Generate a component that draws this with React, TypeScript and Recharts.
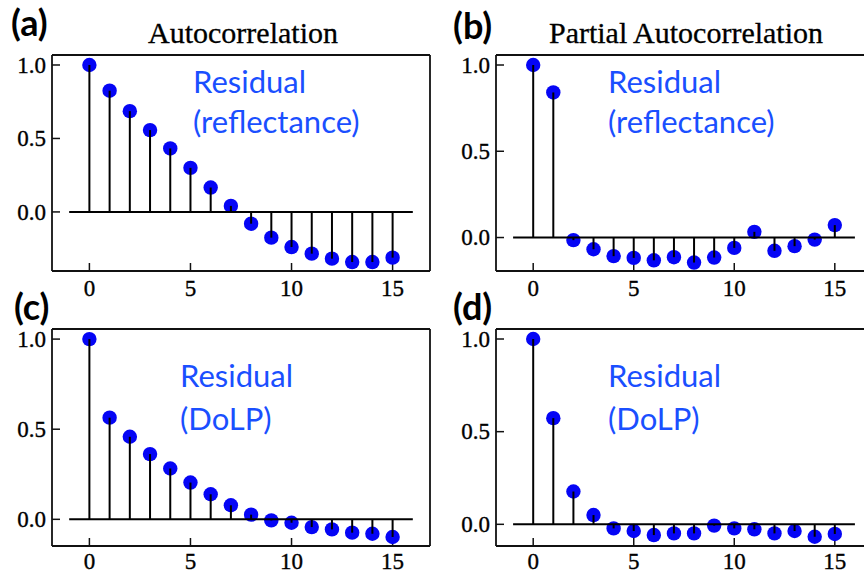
import React from "react";
import { ComposedChart, XAxis, YAxis, Scatter, ReferenceLine } from "recharts";

const LAGS = [0, 1, 2, 3, 4, 5, 6, 7, 8, 9, 10, 11, 12, 13, 14, 15];
const ACF_REFLECT = [1.0, 0.825, 0.686, 0.557, 0.432, 0.3, 0.166, 0.041, -0.08, -0.175, -0.239, -0.284, -0.318, -0.341, -0.341, -0.311];
const PACF_REFLECT = [1.0, 0.841, -0.015, -0.068, -0.108, -0.118, -0.132, -0.114, -0.145, -0.116, -0.06, 0.033, -0.077, -0.05, -0.012, 0.072];
const ACF_DOLP = [1.0, 0.564, 0.458, 0.362, 0.282, 0.204, 0.139, 0.078, 0.026, -0.006, -0.019, -0.043, -0.056, -0.074, -0.08, -0.098];
const PACF_DOLP = [1.0, 0.573, 0.177, 0.05, -0.022, -0.036, -0.058, -0.049, -0.049, -0.007, -0.022, -0.027, -0.049, -0.036, -0.067, -0.052];

const X_MAJOR = [0, 5, 10, 15];
const X_MINOR = [-1, 0, 1, 2, 3, 4, 5, 6, 7, 8, 9, 10, 11, 12, 13, 14, 15, 16];
const Y_MAJOR = [0, 0.5, 1];
const Y_MINOR_DEEP = [-0.3, -0.2, -0.1, 0, 0.1, 0.2, 0.3, 0.4, 0.5, 0.6, 0.7, 0.8, 0.9, 1.0];
const Y_MINOR = [-0.1, 0, 0.1, 0.2, 0.3, 0.4, 0.5, 0.6, 0.7, 0.8, 0.9, 1.0];
const BASE_X = [-1, 16];
const X_DOMAIN: [number, number] = [-1.85, 16.85];

const DOT = "#0505f5";
const TEXT_BLUE = "#1a4fff";
const INK = "#111";
const SERIF = "'Liberation Serif', 'Times New Roman', serif";
const SANS = "Lato, 'Open Sans', sans-serif";
const TICK_PX = 23;

const axisLine = { stroke: INK, strokeWidth: 1.8 };
const tickLine = { stroke: INK, strokeWidth: 1.5 };

const Dot = (p: any) => <circle cx={p.cx} cy={p.cy} r={7.2} fill={DOT} />;

const XTick = (p: any) => (
  <text x={p.x} y={p.y} dy="0.66em" textAnchor="middle" fontFamily={SERIF} fontSize={TICK_PX}
    fill="#000" stroke="#000" strokeWidth={0.35}>
    {p.payload.value}
  </text>
);
const YTick = (p: any) => (
  <text x={p.x} y={p.y} dy="0.34em" textAnchor="end" fontFamily={SERIF} fontSize={TICK_PX}
    fill="#000" stroke="#000" strokeWidth={0.35}>
    {Number(p.payload.value).toFixed(1)}
  </text>
);

// every axis is 1px thick and sits on the frame; margins are the frame position minus 2
function StemPanel({ values, yDomain, yMinor, width, height, margin, labelGap }: {
  values: number[]; yDomain: [number, number]; yMinor: number[];
  width: number; height: number; labelGap: number;
  margin: { top: number; right: number; bottom: number; left: number };
}) {
  const rows = LAGS.map((lag, i) => ({ lag, value: values[i] }));
  const m = { top: margin.top - 2, right: margin.right - 2, bottom: margin.bottom - 2, left: margin.left - 2 };
  return (
    <ComposedChart width={width} height={height} data={rows} margin={m}>
      <XAxis xAxisId="b" type="number" dataKey="lag" domain={X_DOMAIN} allowDataOverflow ticks={X_MAJOR}
        height={1} tickSize={-8} tickMargin={labelGap} tick={XTick} tickLine={tickLine} axisLine={axisLine} />
      <XAxis xAxisId="t" orientation="top" type="number" dataKey="lag" domain={X_DOMAIN} allowDataOverflow ticks={X_MAJOR}
        height={1} tickSize={-8} tick={false} tickLine={tickLine} axisLine={axisLine} />
      <YAxis yAxisId="l" type="number" dataKey="value" domain={yDomain} allowDataOverflow ticks={Y_MAJOR}
        width={1} tickSize={-8} tickMargin={14} tick={YTick} tickLine={tickLine} axisLine={axisLine} />
      <YAxis yAxisId="r" orientation="right" type="number" dataKey="value" domain={yDomain} allowDataOverflow ticks={Y_MAJOR}
        width={1} tickSize={-8} tick={false} tickLine={tickLine} axisLine={axisLine} />
      <XAxis xAxisId="bm" type="number" dataKey="lag" domain={X_DOMAIN} allowDataOverflow ticks={X_MINOR}
        height={1} tickSize={-5} tick={false} tickLine={tickLine} axisLine={false} />
      <XAxis xAxisId="tm" orientation="top" type="number" dataKey="lag" domain={X_DOMAIN} allowDataOverflow ticks={X_MINOR}
        height={1} tickSize={-5} tick={false} tickLine={tickLine} axisLine={false} />
      <YAxis yAxisId="lm" type="number" dataKey="value" domain={yDomain} allowDataOverflow ticks={yMinor}
        width={1} tickSize={-5} tick={false} tickLine={tickLine} axisLine={false} />
      <YAxis yAxisId="rm" orientation="right" type="number" dataKey="value" domain={yDomain} allowDataOverflow ticks={yMinor}
        width={1} tickSize={-5} tick={false} tickLine={tickLine} axisLine={false} />
      <Scatter xAxisId="b" yAxisId="l" dataKey="value" shape={Dot} isAnimationActive={false} />
      <ReferenceLine xAxisId="b" yAxisId="l" segment={[{ x: BASE_X[0], y: 0 }, { x: BASE_X[1], y: 0 }]}
        stroke="#000" strokeWidth={2} zIndex={700} />
      {rows.map(r => (
        <ReferenceLine key={r.lag} xAxisId="b" yAxisId="l" segment={[{ x: r.lag, y: 0 }, { x: r.lag, y: r.value }]}
          stroke="#000" strokeWidth={2} zIndex={700} />
      ))}
    </ComposedChart>
  );
}

export default function App() {
  return (
    <div style={{ position: "absolute", left: 0, top: 0, width: 864, height: 575, overflow: "hidden", background: "#fff" }}>
      <div style={{ position: "absolute", left: 0, top: 0 }}>
        <StemPanel values={ACF_REFLECT} yDomain={[-0.402, 1.068]} yMinor={Y_MINOR_DEEP} labelGap={18}
          width={432} height={305} margin={{ top: 55, right: 2, bottom: 34, left: 52 }} />
      </div>
      <div style={{ position: "absolute", left: 432, top: 0 }}>
        <StemPanel values={PACF_REFLECT} yDomain={[-0.194, 1.058]} yMinor={Y_MINOR} labelGap={18}
          width={448} height={305} margin={{ top: 55, right: 8, bottom: 34, left: 64 }} />
      </div>
      <div style={{ position: "absolute", left: 0, top: 305 }}>
        <StemPanel values={ACF_DOLP} yDomain={[-0.148, 1.056]} yMinor={Y_MINOR} labelGap={16}
          width={432} height={270} margin={{ top: 24, right: 2, bottom: 29, left: 52 }} />
      </div>
      <div style={{ position: "absolute", left: 432, top: 305 }}>
        <StemPanel values={PACF_DOLP} yDomain={[-0.117, 1.054]} yMinor={Y_MINOR} labelGap={16}
          width={448} height={270} margin={{ top: 24, right: 8, bottom: 29, left: 64 }} />
      </div>
      <svg width={864} height={575} style={{ position: "absolute", left: 0, top: 0, pointerEvents: "none" }}>
        <g fontFamily={SERIF} fontSize={30} fill="#000" stroke="#000" strokeWidth={0.3} textAnchor="middle">
          <text x={243} y={43}>Autocorrelation</text>
          <text x={686} y={43}>Partial Autocorrelation</text>
        </g>
        <g fontFamily={SANS} fontSize={36} fontWeight={700} fill="#000">
          <text x={11} y={36}>(a)</text>
          <text x={453} y={39}>(b)</text>
          <text x={14} y={320}>(c)</text>
          <text x={453} y={320}>(d)</text>
        </g>
        <g fontFamily={SANS} fontSize={31} fill={TEXT_BLUE}>
          <text x={193} y={93}>Residual</text>
          <text x={193} y={133}>(reflectance)</text>
          <text x={608} y={93}>Residual</text>
          <text x={608} y={133}>(reflectance)</text>
          <text x={180} y={387}>Residual</text>
          <text x={180} y={430}>(DoLP)</text>
          <text x={608} y={387}>Residual</text>
          <text x={608} y={430}>(DoLP)</text>
        </g>
      </svg>
    </div>
  );
}
